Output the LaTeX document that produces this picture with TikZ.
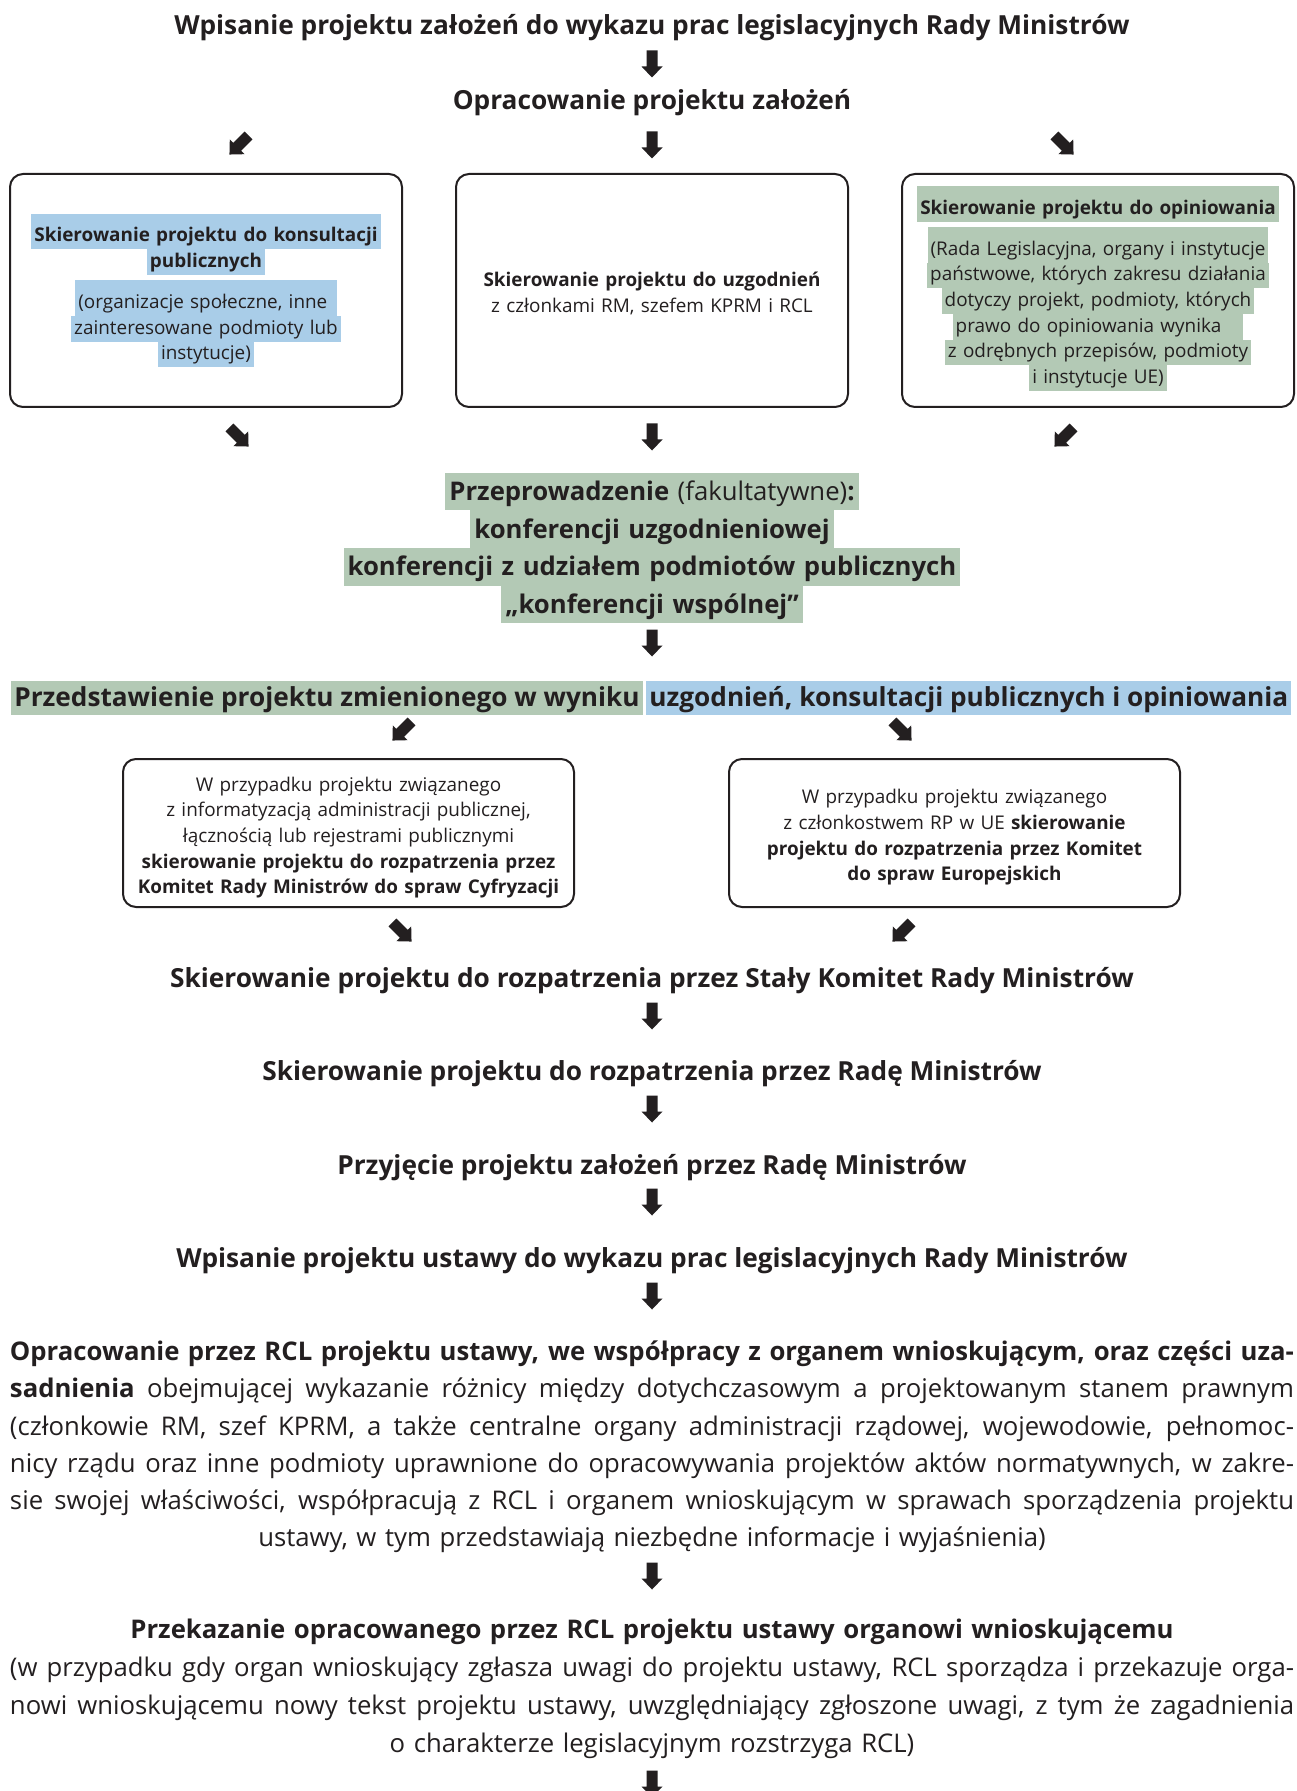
\documentclass[tikz,border=0pt]{standalone}
\usepackage{fontspec}
\setmainfont{Open Sans}
\definecolor{ink}{HTML}{231F20}
\definecolor{hlgreen}{RGB}{179,201,181}
\definecolor{hlblue}{RGB}{169,205,232}

% one highlighted line of small box text: colour, extra room on top, text
\newcommand\hlsmall[3]{{\setlength\fboxsep{0pt}\colorbox{#1}{\hspace{1.5pt}\rule[-3.75pt]{0pt}{\dimexpr12.85pt+#2\relax}#3\hspace{1.5pt}}}}
% one highlighted line of large text
\newcommand\hlbig[3]{{\setlength\fboxsep{0pt}\colorbox{#1}{\hspace{2pt}\rule[-5pt]{0pt}{\dimexpr18.75pt+#2\relax}#3\hspace{2pt}}}}
% a justified full-width line
\newlength\parawidth
\setlength\parawidth{642pt}
\newcommand\fullline[1]{{\spaceskip=0.26em plus 1em minus 0.1em\xspaceskip=\spaceskip\makebox[\parawidth][s]{#1}}}

\tikzset{
  every node/.style={text=ink, inner sep=0pt},
  steptitle/.style={font=\bfseries\fontsize{13.13}{16}\selectfont, text height=9.7pt, text depth=3pt},
  roundbox/.style={draw=ink, line width=1pt, rounded corners=6.5pt},
  topbox/.style={roundbox, minimum width=196pt, minimum height=116.5pt},
  lowbox/.style={roundbox, minimum width=225.5pt, minimum height=74pt},
  boxtext/.style={align=center, text width=215pt, font=\fontsize{9.45}{12.85}\selectfont},
  bigblock/.style={align=center, text width=340pt,
    font=\bfseries\fontsize{12.85}{18.75}\selectfont},
  paragraph/.style={align=center, text width=642pt,
    font=\fontsize{12.85}{18.6}\selectfont},
  bandpart/.style={font=\bfseries\fontsize{13.1}{16}\selectfont, text height=12.5pt, text depth=4.5pt, inner xsep=1.5pt},
  blockarrow/.pic={\fill[ink] (-13.5,-5.5) -- (2.5,-5.5) -- (2.5,-10.5) -- (13.5,0) -- (2.5,10.5) -- (2.5,5.5) -- (-13.5,5.5) -- cycle;}
}

\begin{document}
\lineskiplimit=-100pt \normallineskiplimit=-100pt
\begin{tikzpicture}[x=0.5pt, y=-0.5pt]
\useasboundingbox[fill=white] (0,0) rectangle (1296,1791);

% opening steps
\node[steptitle] (wpis) at (652,28) {Wpisanie projektu założeń do wykazu prac legislacyjnych Rady Ministrów};
\pic[rotate=-90] (a1) at (652,64) {blockarrow};
\node[steptitle] (opr) at (652,103) {Opracowanie projektu założeń};

\pic[rotate=-135] (a2l) at (239,145) {blockarrow};
\pic[rotate=-90]  (a2m) at (652,145) {blockarrow};
\pic[rotate=-45]  (a2r) at (1064,145) {blockarrow};

% three parallel routes
\node[topbox] (kons) at (206,290.5) {};
\node[topbox] (uzg)  at (652,290.5) {};
\node[topbox] (opin) at (1098,290.5) {};

\node[boxtext] (konst) at (kons.center) {%
  \hlsmall{hlblue}{5pt}{\bfseries Skierowanie projektu do konsultacji}\\
  \hlsmall{hlblue}{0pt}{\bfseries publicznych}\\[7.65pt]
  \hlsmall{hlblue}{5pt}{(organizacje społeczne, inne~}\\
  \hlsmall{hlblue}{0pt}{zainteresowane podmioty lub}\\
  \hlsmall{hlblue}{0pt}{instytucje)}};
\node[boxtext] (uzgt) at ([yshift=-1.5pt]uzg.center) {%
  \textbf{Skierowanie projektu do uzgodnień}\\
  z członkami RM, szefem KPRM i RCL};
\node[boxtext] (opint) at ([yshift=1pt]opin.center) {%
  \hlsmall{hlgreen}{5pt}{\bfseries Skierowanie projektu do opiniowania}\\[7.65pt]
  \hlsmall{hlgreen}{5pt}{(Rada Legislacyjna, organy i instytucje}\\
  \hlsmall{hlgreen}{0pt}{państwowe, których zakresu działania}\\
  \hlsmall{hlgreen}{0pt}{dotyczy projekt, podmioty, których}\\
  \hlsmall{hlgreen}{0pt}{prawo do opiniowania wynika~~~}\\
  \hlsmall{hlgreen}{0pt}{z odrębnych przepisów, podmioty}\\
  \hlsmall{hlgreen}{0pt}{i instytucje UE)}};

\pic[rotate=-45]  (a3l) at (239,437) {blockarrow};
\pic[rotate=-90]  (a3m) at (652,437) {blockarrow};
\pic[rotate=-135] (a3r) at (1064,437) {blockarrow};

% optional conferences
\node[bigblock] (konf) at (652,548) {%
  \hlbig{hlgreen}{0pt}{Przeprowadzenie {\mdseries(fakultatywne)}:}\\
  \hlbig{hlgreen}{0pt}{konferencji uzgodnieniowej}\\
  \hlbig{hlgreen}{0pt}{konferencji z udziałem podmiotów publicznych}\\
  \hlbig{hlgreen}{0pt}{„konferencji wspólnej”}};

\pic[rotate=-90] (a4) at (652,643) {blockarrow};

% amended draft
\node[bandpart, fill=hlgreen, anchor=east] (zm1) at (643,698) {Przedstawienie projektu zmienionego w wyniku};
\node[bandpart, fill=hlblue, anchor=west] (zm2) at (646,698) {uzgodnień, konsultacji publicznych i opiniowania};

\pic[rotate=-135] (a5l) at (402,731) {blockarrow};
\pic[rotate=-45]  (a5r) at (902,731) {blockarrow};

% committees
\node[lowbox] (cyfr) at (348.5,833) {};
\node[lowbox] (euro) at (954.5,833) {};
\node[boxtext] (cyfrt) at ([yshift=-2.25pt]cyfr.center) {%
  W przypadku projektu związanego\\
  z informatyzacją administracji publicznej,\\
  łącznością lub rejestrami publicznymi\\
  \textbf{skierowanie projektu do rozpatrzenia przez}\\
  \textbf{Komitet Rady Ministrów do spraw Cyfryzacji}};
\node[boxtext] (eurot) at ([yshift=-2.25pt]euro.center) {%
  W przypadku projektu związanego\\
  z członkostwem RP w UE \textbf{skierowanie}\\
  \textbf{projektu do rozpatrzenia przez Komitet}\\
  \textbf{do spraw Europejskich}};

\pic[rotate=-45]  (a6l) at (402,932) {blockarrow};
\pic[rotate=-135] (a6r) at (902,932) {blockarrow};

% government stages
\node[steptitle] (skrm) at (652,981) {Skierowanie projektu do rozpatrzenia przez Stały Komitet Rady Ministrów};
\pic[rotate=-90] (a7) at (652,1016) {blockarrow};
\node[steptitle] (rm) at (652,1074) {Skierowanie projektu do rozpatrzenia przez Radę Ministrów};
\pic[rotate=-90] (a8) at (652,1109) {blockarrow};
\node[steptitle] (przyj) at (652,1168) {Przyjęcie projektu założeń przez Radę Ministrów};
\pic[rotate=-90] (a9) at (652,1202) {blockarrow};
\node[steptitle] (ust) at (652,1261) {Wpisanie projektu ustawy do wykazu prac legislacyjnych Rady Ministrów};
\pic[rotate=-90] (a10) at (652,1296) {blockarrow};

\node[paragraph] (rcl) at (652,1447) {%
  \fullline{\bfseries Opracowanie przez RCL projektu ustawy, we współpracy z organem wnioskującym, oraz części uza-}\\
  \fullline{\textbf{sadnienia} obejmującej wykazanie różnicy między dotychczasowym a projektowanym stanem prawnym}\\
  \fullline{(członkowie RM, szef KPRM, a także centralne organy administracji rządowej, wojewodowie, pełnomoc-}\\
  \fullline{nicy rządu oraz inne podmioty uprawnione do opracowywania projektów aktów normatywnych, w zakre-}\\
  \fullline{sie swojej właściwości, współpracują z RCL i organem wnioskującym w sprawach sporządzenia projektu}\\
  ustawy, w tym przedstawiają niezbędne informacje i wyjaśnienia)};

\pic[rotate=-90] (a11) at (652,1576) {blockarrow};

\node[paragraph, font=\fontsize{12.85}{19}\selectfont] (przek) at (652,1689) {%
  \textbf{Przekazanie opracowanego przez RCL projektu ustawy organowi wnioskującemu}\\
  \fullline{(w przypadku gdy organ wnioskujący zgłasza uwagi do projektu ustawy, RCL sporządza i przekazuje orga-}\\
  \fullline{nowi wnioskującemu nowy tekst projektu ustawy, uwzględniający zgłoszone uwagi, z tym że zagadnienia}\\
  o charakterze legislacyjnym rozstrzyga RCL)};

\pic[rotate=-90] (a12) at (652,1784) {blockarrow};
\end{tikzpicture}
\end{document}
